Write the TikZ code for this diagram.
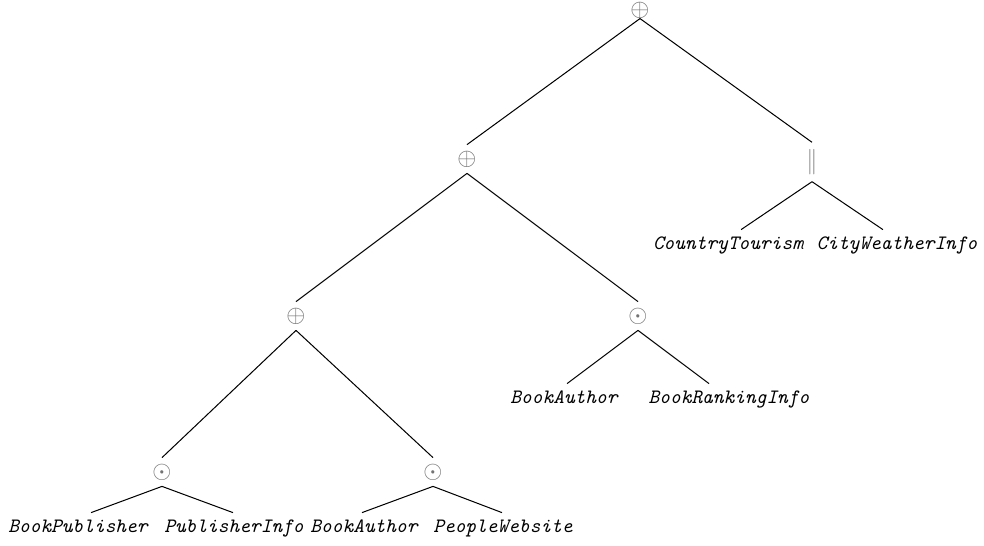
\documentclass[tikz,border=0pt]{standalone}
\usepackage{graphicx}
\begin{document}
\begin{tikzpicture}[x=0.49pt, y=-0.49pt,
  op/.style={inner sep=0pt, minimum height=13.7pt, text=black!55,
    font=\fontsize{12}{14}\selectfont},
  leaf/.style={inner sep=0pt, minimum height=13.7pt, text height=7pt, text depth=2pt,
    font=\ttfamily\itshape},
  branch/.style={line width=0.5pt}]
\useasboundingbox (0,0) rectangle (984,546);

% operator nodes
\node[op, minimum height=8pt] (root) at (640,10) {$\oplus$};
\node[op] (a)    at (467,159) {$\oplus$};
\node[op, font=\normalsize, inner ysep=3.2pt] (b) at (812,162)
  {\scalebox{1}[1.25]{$\parallel$}};
\node[op] (c)    at (296,316) {$\oplus$};
\node[op] (d)    at (638,316) {$\odot$};
\node[op] (e)    at (162,472) {$\odot$};
\node[op] (f)    at (433,472) {$\odot$};

% service leaves
\node[leaf] (ct)  at (728,244) {CountryTourism};
\node[leaf] (cw)  at (897,244) {CityWeatherInfo};
\node[leaf] (ba1) at (564,398) {BookAuthor};
\node[leaf] (br)  at (729,398) {BookRankingInfo};
\node[leaf] (bp)  at (78,527)  {BookPublisher};
\node[leaf] (pi)  at (234,527) {PublisherInfo};
\node[leaf] (ba2) at (364,527) {BookAuthor};
\node[leaf] (pw)  at (503,527) {PeopleWebsite};

% branches
\draw[branch] (root.south) -- (a.north);
\draw[branch] (root.south) -- (b.north);
\draw[branch] (a.south) -- (c.north);
\draw[branch] (a.south) -- (d.north);
\draw[branch] (b.south) -- ([xshift=6.4pt]ct.north);
\draw[branch] (b.south) -- ([xshift=-6.9pt]cw.north);
\draw[branch] (d.south) -- ([xshift=1.5pt]ba1.north);
\draw[branch] (d.south) -- ([xshift=-9.8pt]br.north);
\draw[branch] (c.south) -- (e.north);
\draw[branch] (c.south) -- (f.north);
\draw[branch] (e.south) -- ([xshift=6.4pt]bp.north);
\draw[branch] (e.south) -- ([xshift=-0.5pt]pi.north);
\draw[branch] (f.south) -- ([xshift=-1pt]ba2.north);
\draw[branch] (f.south) -- ([xshift=-0.5pt]pw.north);
\end{tikzpicture}
\end{document}
